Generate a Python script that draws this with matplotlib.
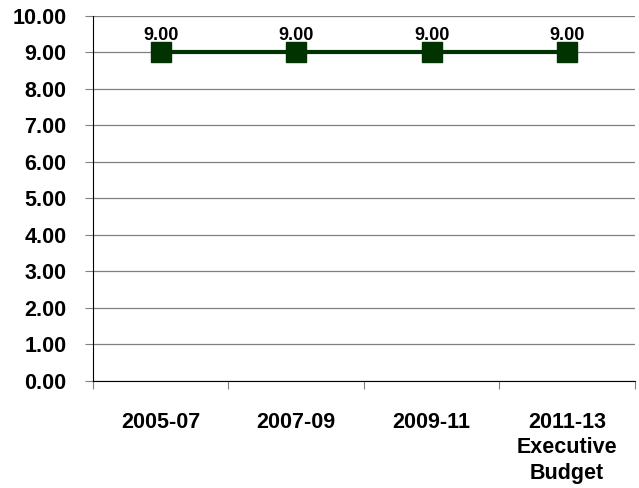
import matplotlib
matplotlib.use("Agg")
import matplotlib.pyplot as plt

categories = ["2005-07", "2007-09", "2009-11", "2011-13\nExecutive\nBudget"]
values = [9.00, 9.00, 9.00, 9.00]
yticks = [0, 1, 2, 3, 4, 5, 6, 7, 8, 9, 10]

plt.rcParams['font.family'] = ['Liberation Sans', 'DejaVu Sans']
plt.rcParams['font.weight'] = 'bold'

fig = plt.figure(figsize=(6.39, 4.88), dpi=100)
ax = fig.add_axes([0.1455, 0.2193, 0.848, 0.748])

x = list(range(len(categories)))
ax.plot(x, values, color='#003300', linewidth=3, marker='s', markersize=14,
        markerfacecolor='#003300', markeredgecolor='#003300', zorder=3,
        clip_on=False)
for xi, v in zip(x, values):
    ax.annotate(f"{v:.2f}", (xi, v), xytext=(0, 9), textcoords='offset points',
                ha='center', va='baseline', fontsize=13, fontweight='bold')

ax.set_xlim(-0.5, len(categories) - 0.5)
ax.set_ylim(0, 10)
ax.set_yticks(yticks)
ax.set_yticklabels([f"{t:.2f}" for t in yticks], fontsize=15.5, fontweight='bold')
ax.yaxis.grid(True, color='#808080', linewidth=0.9)
ax.set_axisbelow(True)

ax.set_xticks([i - 0.5 for i in range(len(categories) + 1)])
ax.set_xticklabels([])
ax.set_xticks(x, minor=True)
ax.set_xticklabels(categories, minor=True, fontsize=15.5, fontweight='bold',
                   linespacing=1.3)
ax.tick_params(axis='x', which='minor', length=0, pad=22)
ax.tick_params(axis='x', which='major', length=6, direction='out', color='#808080')
ax.tick_params(axis='y', length=6, direction='out', color='#808080', pad=13)

ax.spines['top'].set_visible(False)
ax.spines['right'].set_visible(False)
ax.spines['left'].set_color('black')
ax.spines['bottom'].set_color('black')

fig.savefig("out.png", dpi=100)
